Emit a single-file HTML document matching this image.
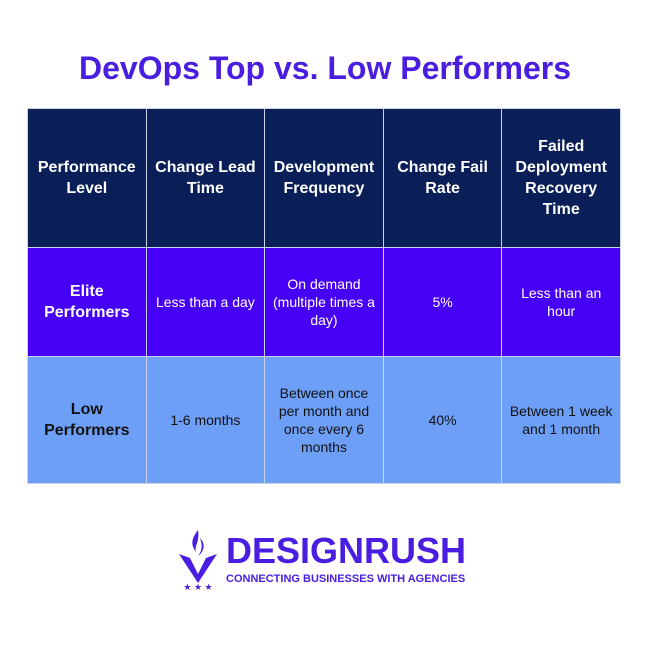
<!DOCTYPE html>
<html><head><meta charset="utf-8"><style>
body{margin:0;width:650px;height:650px;background:#fff;font-family:"Liberation Sans",sans-serif;position:relative;overflow:hidden}
h1{position:absolute;top:50px;left:0;width:650px;margin:0;text-align:center;font-size:32px;font-weight:bold;color:#4a1ee0;letter-spacing:0}
table{position:absolute;left:27px;top:108px;border-collapse:collapse;table-layout:fixed;width:594px}
td{border:1px solid #c9d2e6;text-align:center;vertical-align:middle;font-size:14px;line-height:18px;padding:0 4px}
tr.h td{background:#0a1f58;color:#fff;font-weight:bold;font-size:16px;line-height:21px;height:138px}
tr.e td{background:#4600f5;color:#fff;height:108px}
tr.l td{background:#6e9ff7;color:#111;height:126px}
td.b{font-weight:bold;font-size:16px;line-height:21px}
.logo{position:absolute;left:178px;top:528px}
.dr{position:absolute;left:226px;top:530px;font-size:36px;font-weight:bold;color:#4a1ee0;letter-spacing:0}
.tag{position:absolute;left:226px;top:573px;font-size:11px;font-weight:bold;color:#4a1ee0}
</style></head><body>
<h1>DevOps Top vs. Low Performers</h1>
<table>
<tr class="h">
<td>Performance Level</td>
<td>Change Lead Time</td>
<td>Development Frequency</td>
<td>Change Fail Rate</td>
<td>Failed Deployment Recovery Time</td></tr>
<tr class="e">
<td class="b">Elite Performers</td>
<td>Less than a day</td>
<td>On demand (multiple times a day)</td>
<td>5%</td>
<td>Less than an hour</td></tr>
<tr class="l">
<td class="b">Low Performers</td>
<td>1-6 months</td>
<td>Between once per month and once every 6 months</td>
<td>40%</td>
<td>Between 1 week and 1 month</td></tr>
</table>
<svg class="logo" width="40" height="62" viewBox="0 0 40 62">
<path d="M20 2 C14 10 12 16 18 24 C16 18 22 14 20 2 Z M22 10 C28 16 26 24 20 28 C25 22 24 16 22 10Z" fill="#4a1ee0"/>
<path d="M1 26 L12 30 L20 46 L28 30 L39 26 L20 55 Z" fill="#4a1ee0"/>
<text x="20" y="62" font-size="9" text-anchor="middle" fill="#4a1ee0">★ ★ ★</text>
</svg>
<div class="dr">DESIGNRUSH</div>
<div class="tag">CONNECTING BUSINESSES WITH AGENCIES</div>
</body></html>
